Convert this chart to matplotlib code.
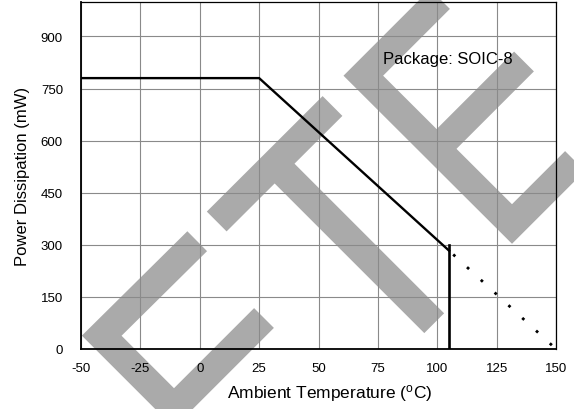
import matplotlib
matplotlib.use('Agg')
import matplotlib.pyplot as plt
from matplotlib.lines import Line2D

plt.rcParams['font.family'] = ['Liberation Sans', 'DejaVu Sans']
plt.rcParams['mathtext.fontset'] = 'custom'
plt.rcParams['mathtext.rm'] = 'Liberation Sans'
plt.rcParams['mathtext.it'] = 'Liberation Sans:italic'

# ---- data ----
curve_temp = [-50, 25, 105]
curve_power = [780, 780, 283]
cutoff_temp = [105, 105]
cutoff_power = [0, 300]
extended_temp = [105, 150]
extended_power = [283, 0]
x_ticks = [-50, -25, 0, 25, 50, 75, 100, 125, 150]
y_ticks = [0, 150, 300, 450, 600, 750, 900]
annotation = "Package: SOIC-8"

# ---- watermark strokes (image pixel coords, decoration only) ----
W, H = 574, 410
wm_strokes = [
    [(197.2, 242.2), (101.7, 336.7), (174.0, 409.0), (264.0, 319.0)],   # C
    [(216.7, 222.5), (332.5, 107.0)],                                   # T bar
    [(274.6, 164.6), (434.2, 324.2)],                                   # T stem
    [(470.0, -30.0), (363.3, 76.7), (512.0, 225.0), (600.0, 137.0)],    # E outline
    [(436.5, 150.0), (524.0, 62.5)],                                    # E middle
]

fig = plt.figure(figsize=(W / 100, H / 100), dpi=100)
fig.patch.set_facecolor('white')

for s in wm_strokes:
    xs = [p[0] / W for p in s]
    ys = [1 - p[1] / H for p in s]
    ln = Line2D(xs, ys, transform=fig.transFigure, color='#aaaaaa',
                lw=28 * 72 / 100, solid_joinstyle='miter', solid_capstyle='butt',
                zorder=-5)
    fig.add_artist(ln)

ax = fig.add_axes([81 / W, 1 - 350 / H, 475 / W, 347.3 / H])
ax.set_facecolor('none')

ax.plot(curve_temp, curve_power, color='black', lw=1.7, zorder=3,
        solid_joinstyle='miter')
ax.plot(cutoff_temp, cutoff_power, color='black', lw=1.9, zorder=3)
ax.plot(extended_temp, extended_power, color='black', lw=2.0,
        linestyle=(4.75, (1, 5.75)), zorder=3)

ax.set_xlim(-50, 150)
ax.set_ylim(0, 1000)
ax.set_xticks(x_ticks)
ax.set_yticks(y_ticks)
ax.set_xticklabels([str(v) for v in x_ticks])
ax.set_yticklabels([str(v) for v in y_ticks])
ax.tick_params(axis='both', length=0, labelsize=9.5, colors='black')
ax.tick_params(axis='y', pad=13)
ax.tick_params(axis='x', pad=9.5)

ax.grid(True, color='#8a8a8a', lw=0.8)
ax.set_axisbelow(True)

for side in ['left', 'bottom']:
    ax.spines[side].set_linewidth(1.3)
    ax.spines[side].set_color('black')
for side in ['top', 'right']:
    ax.spines[side].set_linewidth(0.9)
    ax.spines[side].set_color('black')

ax.text(77.1, 836, annotation, fontsize=12, ha='left', va='center', zorder=4)

ax.set_xlabel(r'Ambient Temperature ($^{\mathrm{o}}$C)', fontsize=12.5)
ax.set_ylabel('Power Dissipation (mW)', fontsize=12)
ax.xaxis.set_label_coords(0.524, -0.095)
ax.yaxis.set_label_coords(-0.108, 0.5)

fig.savefig('out.png', dpi=100)
